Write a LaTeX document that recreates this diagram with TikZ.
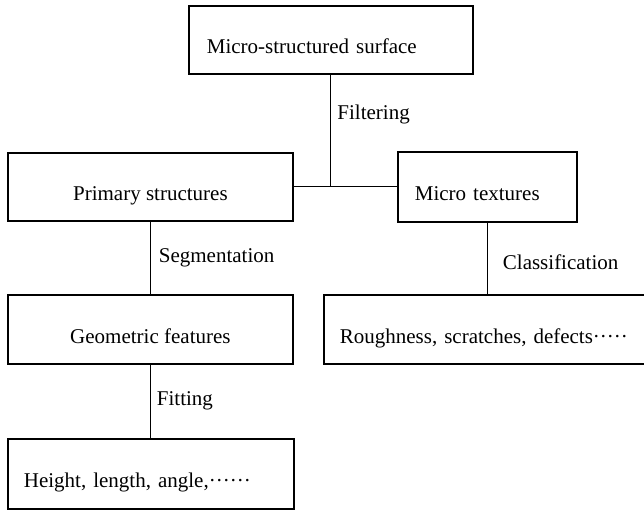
\documentclass[tikz,border=0pt]{standalone}
\usepackage{fontspec}
\setmainfont{Liberation Serif}

\begin{document}
\begin{tikzpicture}[x=1pt,y=-1pt,
	box/.style={draw,line width=1.8pt,anchor=north west,inner ysep=0pt,text height=28pt,text depth=0pt,font=\fontsize{21}{25}\selectfont},
	lbl/.style={inner sep=0pt,font=\fontsize{21}{25}\selectfont},
	link/.style={line width=1pt}]
		
		%Page frame
		\useasboundingbox (0,0) rectangle (644,509);
		\clip (0,0) rectangle (644,509);
		
		%Boxes
		\node[box,minimum height=68pt,inner xsep=18pt,text width=248pt,align=left] (surface) at (188,5) {Micro-structured surface};
		\node[box,minimum height=68pt,minimum width=285pt,align=center] (primary) at (7,152) {Primary structures};
		\node[box,minimum height=70pt,inner xsep=17pt,text width=145pt,align=left] (textures) at (397,151) {Micro textures};
		\node[box,minimum height=69pt,minimum width=285pt,align=center] (geometric) at (7,294) {Geometric features};
		\node[box,minimum height=69pt,inner xsep=16pt,text width=305pt,align=left] (rough) at (323,294) {Roughness, scratches, defects·····};
		\node[box,minimum height=70pt,inner xsep=16pt,text width=254pt,align=left] (height) at (7,438) {Height, length, angle,······};
		
		%Connectors and their labels
		\draw[link] (surface.south) -- node[lbl,right=6pt,pos=0.35] {Filtering} (surface.south |- primary.east);
		\draw[link] (primary.east) -- (textures.west);
		\draw[link] (primary.south) -- node[lbl,right=8pt,pos=0.5] {Segmentation} (geometric.north);
		\draw[link] (textures.south) -- node[lbl,right=15pt,pos=0.55] {Classification} (textures.south |- rough.north);
		\draw[link] (geometric.south) -- node[lbl,right=6pt,pos=0.49] {Fitting} (geometric.south |- height.north);
	\end{tikzpicture}
\end{document}
